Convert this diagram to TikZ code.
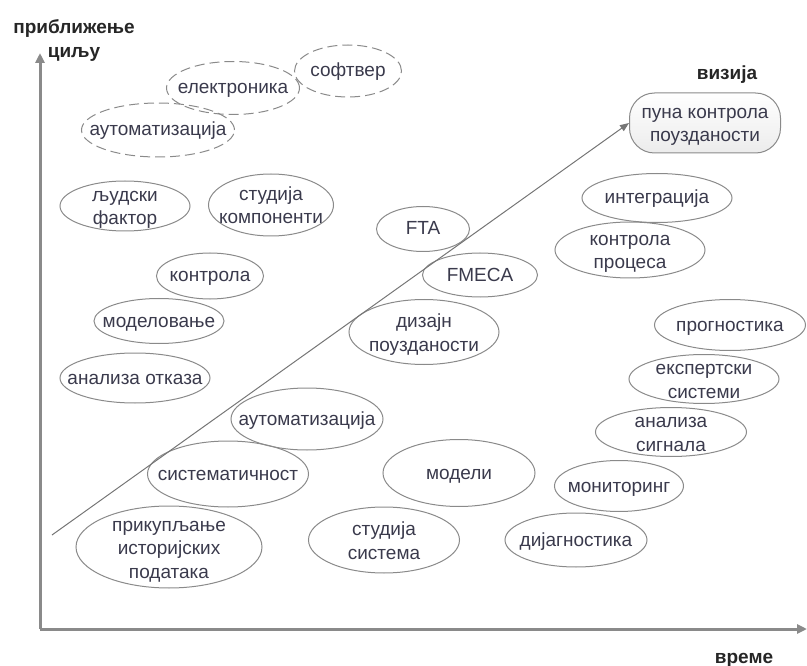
\documentclass[tikz,border=0pt]{standalone}
\usepackage{fontspec}
\setmainfont{Liberation Sans}
\usetikzlibrary{shapes.geometric,arrows.meta}
\definecolor{tekst}{HTML}{3A3A4C}
\definecolor{ivica}{HTML}{8A8A8A}
\begin{document}
\begin{tikzpicture}[x=1pt,y=-1pt,
		every node/.style={text=tekst,font=\fontsize{19}{23.5}\selectfont,align=center,
			execute at begin node={\rule{0pt}{18pt}},execute at end node={\rule[-6pt]{0pt}{6pt}}},
		dvared/.style={execute at begin node={\rule{0pt}{44pt}}},
		trired/.style={execute at begin node={\rule{0pt}{68pt}}},
		pojam/.style={ellipse,draw=ivica,line width=1pt,inner xsep=-60pt,inner ysep=-40pt},
		novo/.style={pojam,dash pattern=on 10pt off 5pt},
		naslov/.style={font=\fontsize{19}{24}\selectfont\bfseries,text=black!85}]
			\useasboundingbox (0,0) rectangle (807,666);

			% Ose
			\coordinate (O) at (40,629);
			\coordinate (Y) at (40,53);
			\coordinate (X) at (807,629);
			\draw[-{Triangle[length=10pt,width=9pt]},ivica,line width=3pt] (O) -- (Y);
			\draw[-{Triangle[length=10pt,width=9pt]},ivica,line width=3pt] (O) -- (X);
			\node[naslov] (ycilj) at (74,42) {приближење\\циљу};
			\node[naslov] (xvreme) at (744,657) {време};
			\node[naslov] (vizija) at (727,74) {визија};

			% Нове области
			\node[novo,minimum width=133pt,minimum height=53pt] (elektronika) at (233,88) {електроника};
			\node[novo,minimum width=107pt,minimum height=52pt] (softver) at (348,71) {софтвер};
			\node[novo,minimum width=153pt,minimum height=54pt] (automat1) at (158,130) {аутоматизација};

			% Лево од стрелице
			\node[pojam,dvared,minimum width=130pt,minimum height=50pt] (ljudski) at (125,206) {људски\\фактор};
			\node[pojam,dvared,minimum width=125pt,minimum height=62pt] (komponente) at (271,205) {студија\\компоненти};
			\node[pojam,minimum width=107pt,minimum height=46pt] (kontrola) at (210,276) {контрола};
			\node[pojam,minimum width=130pt,minimum height=45pt] (modelovanje) at (159,321) {моделовање};
			\node[pojam,minimum width=150pt,minimum height=50pt] (otkaz) at (135,378) {анализа отказа};
			\node[pojam,minimum width=93pt,minimum height=45pt] (fta) at (423,229) {FTA};

			% Дуж стрелице
			\node[pojam,minimum width=115pt,minimum height=44pt] (fmeca) at (480,275) {FMECA};
			\node[pojam,dvared,minimum width=150pt,minimum height=65pt] (dizajn) at (424,332) {дизајн\\поузданости};
			\node[pojam,minimum width=152pt,minimum height=62pt] (automat2) at (307,419) {аутоматизација};
			\node[pojam,minimum width=161pt,minimum height=66pt] (sistem) at (228,474) {систематичност};
			\node[pojam,trired,minimum width=186pt,minimum height=82pt] (podaci) at (169,547) {прикупљање\\историјских\\података};

			% Десно од стрелице
			\node[pojam,dvared,minimum width=151pt,minimum height=66pt] (studsist) at (384,540) {студија\\система};
			\node[pojam,minimum width=152pt,minimum height=67pt] (modeli) at (459,473) {модели};
			\node[pojam,minimum width=142pt,minimum height=54pt] (dijag) at (576,540) {дијагностика};
			\node[pojam,minimum width=129pt,minimum height=51pt] (monitor) at (619,486) {мониторинг};
			\node[pojam,dvared,minimum width=151pt,minimum height=49pt] (signal) at (671,432) {анализа\\сигнала};
			\node[pojam,dvared,minimum width=150pt,minimum height=49pt] (ekspert) at (704,379) {експертски\\системи};
			\node[pojam,minimum width=151pt,minimum height=51pt] (prognoza) at (730,325) {прогностика};
			\node[pojam,dvared,minimum width=150pt,minimum height=56pt] (proces) at (630,250) {контрола\\процеса};
			\node[pojam,minimum width=150pt,minimum height=49pt] (integr) at (657,198) {интеграција};

			% Циљ
			\node[dvared,draw=ivica,line width=1pt,rounded corners=25pt,top color=white,bottom color=gray!15,minimum width=151pt,minimum height=60pt,inner sep=0pt] (puna) at (705,123) {пуна контрола\\поузданости};

			\coordinate (start) at (52,535);
			\draw[-{Triangle[length=9pt,width=7pt]},ivica!85!black,line width=1pt] (start) -- (puna.west);
\end{tikzpicture}
\end{document}
